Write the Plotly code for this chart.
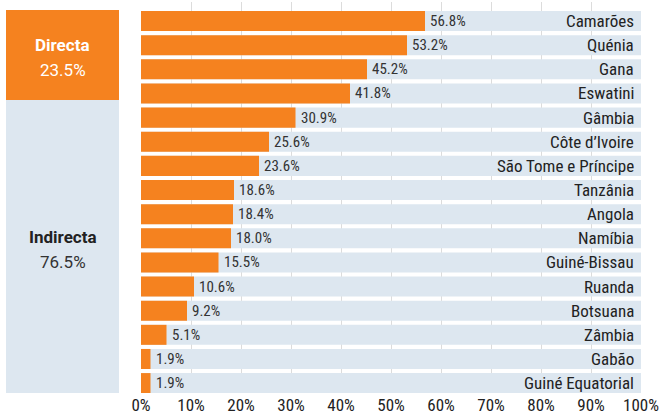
import plotly.graph_objects as go

countries = ["Camarões", "Quénia", "Gana", "Eswatini", "Gâmbia", "Côte d’Ivoire",
             "São Tome e Príncipe", "Tanzânia", "Angola", "Namíbia", "Guiné-Bissau",
             "Ruanda", "Botsuana", "Zâmbia", "Gabão", "Guiné Equatorial"]
values = [56.8, 53.2, 45.2, 41.8, 30.9, 25.6, 23.6, 18.6, 18.4, 18.0, 15.5,
          10.6, 9.2, 5.1, 1.9, 1.9]
full = [100] * len(countries)

split_labels = ["Indirecta", "Directa"]
split_values = [76.5, 23.5]

ORANGE = "#f5821f"
LIGHT = "#dde7f0"
DARK = "#222222"
FONT = "Roboto Condensed, Roboto, sans-serif"

fig = go.Figure()

# left panel: stacked share
bases = [0, split_values[0]]
fig.add_trace(go.Bar(
    x=[0, 0], y=split_values, base=bases, width=1,
    marker=dict(color=[LIGHT, ORANGE], line=dict(width=0)),
    xaxis="x", yaxis="y", hoverinfo="skip", showlegend=False,
))
label_colors = [DARK, "white"]
for lab, v, b, col in zip(split_labels, split_values, bases, label_colors):
    mid = b + v / 2
    fig.add_annotation(x=0, y=mid, xref="x", yref="y", text=f"<b>{lab}</b>",
                       showarrow=False, yshift=10,
                       font=dict(size=17, color=col, family="Roboto, sans-serif"))
    fig.add_annotation(x=0, y=mid, xref="x", yref="y", text=f"{v:.1f}%",
                       showarrow=False, yshift=-15,
                       font=dict(size=17, color=col if col == "white" else "#333333",
                                 family="Roboto, sans-serif"))

# right panel: background bars
fig.add_trace(go.Bar(
    x=full, y=countries, orientation="h", width=0.83,
    marker=dict(color=LIGHT, line=dict(width=0)),
    xaxis="x2", yaxis="y2", hoverinfo="skip", showlegend=False,
))
fig.add_trace(go.Bar(
    x=values, y=countries, orientation="h", width=0.83,
    marker=dict(color=ORANGE, line=dict(width=0)),
    xaxis="x2", yaxis="y2", hoverinfo="skip", showlegend=False,
))

for c, v, f in zip(countries, values, full):
    fig.add_annotation(x=v, y=c, xref="x2", yref="y2", text=f"{v:.1f}%", showarrow=False,
                       xanchor="left", xshift=3,
                       font=dict(size=15, color="#333333", family=FONT))
    fig.add_annotation(x=f, y=c, xref="x2", yref="y2", text=c, showarrow=False,
                       xanchor="right", xshift=-5,
                       font=dict(size=17, color=DARK, family=FONT))

fig.update_layout(
    width=669, height=416,
    margin=dict(l=0, r=28, t=2, b=23, autoexpand=False),
    paper_bgcolor="white", plot_bgcolor="white",
    barmode="overlay",
    font=dict(family=FONT, color=DARK),
    xaxis=dict(domain=[6/641, 119/641], range=[-0.5, 0.5], visible=False,
               automargin=False),
    yaxis=dict(domain=[0, 383/391], range=[0, 100], visible=False, automargin=False),
    xaxis2=dict(domain=[141/641, 1], range=[0, 100], dtick=10, ticksuffix="%",
                showgrid=True, gridcolor="#dcdcdc", gridwidth=1, zeroline=False,
                showline=False, ticks="", tickfont=dict(size=17, color=DARK, family=FONT),
                anchor="y2", automargin=False),
    yaxis2=dict(domain=[0, 1], range=[15.41, -0.79], type="category",
                showticklabels=False, showgrid=False, zeroline=False, anchor="x2",
                automargin=False),
)

fig.write_html("out.html", config={"displayModeBar": False},
               post_script="document.body.style.margin='0';")
